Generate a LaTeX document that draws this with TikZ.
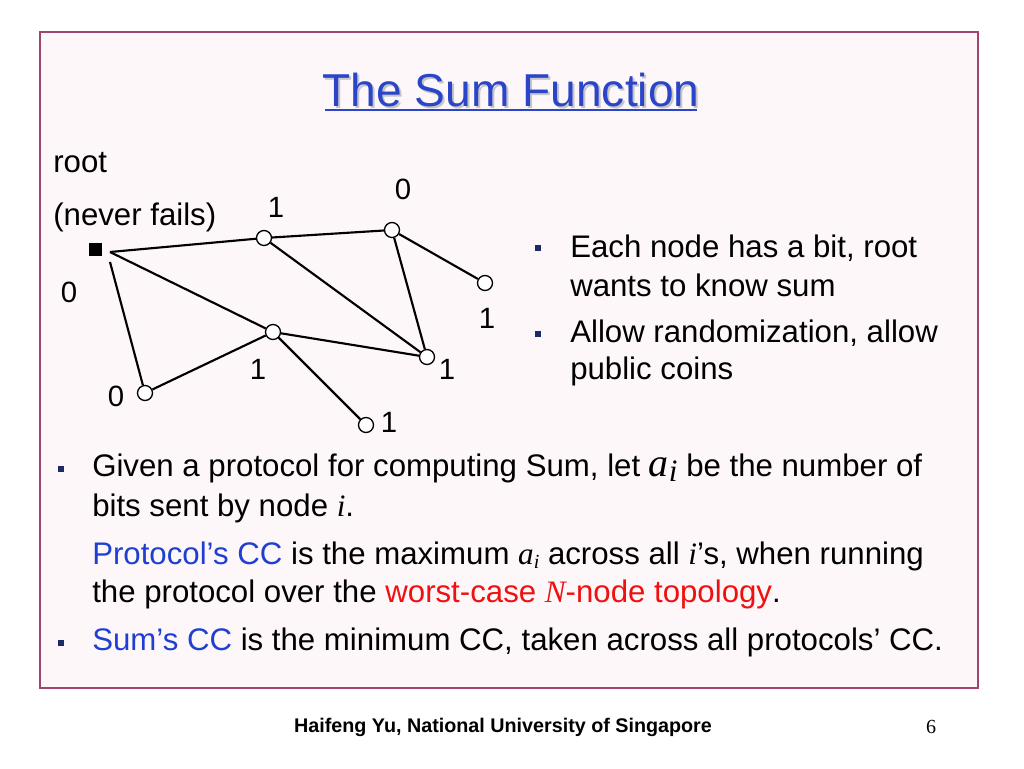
\documentclass[tikz,border=0pt]{standalone}
\usepackage{fontspec}
\setmainfont{Liberation Sans}
\newfontfamily\tms{Liberation Serif}
\definecolor{frame}{HTML}{A0446E}
\definecolor{bg}{HTML}{FDF7FA}
\definecolor{ttl}{HTML}{2A45C8}
\definecolor{blu}{HTML}{1F3FD0}
\definecolor{rd}{HTML}{F01010}
\definecolor{bul}{HTML}{1A2A6A}
\newcommand{\vi}[1]{{\tms\itshape #1}}
\begin{document}
\begin{tikzpicture}[x=0.75pt,y=-0.75pt,
  gn/.style={circle,draw,fill=white,inner sep=0pt,minimum size=11.25pt,line width=1pt},
  ed/.style={line width=1.6pt},
  lab/.style={font=\fontsize{22}{24}\selectfont,inner sep=0pt},
  txt/.style={font=\fontsize{23.4}{28}\selectfont,anchor=west,inner sep=0pt},
  bl/.style={fill=bul,minimum size=4.5pt,inner sep=0pt}]
\useasboundingbox (0,0) rectangle (1024,768);
\fill[white] (0,0) rectangle (1024,768);
\draw[frame,fill=bg,line width=2pt] (40,32) rectangle (978,688);
\node (shadow) [font=\fontsize{34.6}{38}\selectfont,text=gray!45] at (513,92) {The Sum Function};
\node (title) [font=\fontsize{34.6}{38}\selectfont,text=ttl] at (511,90) {The Sum Function};
\draw[ttl,line width=1.2pt] (325,110) -- (697,110);
\node[txt] (root) at (53,163) {root};
\node[txt] (nf) at (53,217) {(never fails)};
\node (r) [fill=black,minimum size=9.75pt,inner sep=0pt] at (95,249) {};
\node (a) [gn] at (264,238) {};
\node (b) [gn] at (392,230) {};
\node (c) [gn] at (485,283) {};
\node (d) [gn] at (273,332) {};
\node (e) [gn] at (427,357) {};
\node (f) [gn] at (145,393) {};
\node (g) [gn] at (366,425) {};
\coordinate (rr) at (110,252);
\coordinate (rf) at (110,262);
\draw[ed] (rr) -- (a); \draw[ed] (a) -- (b);
\draw[ed] (rr) -- (d); \draw[ed] (rf) -- (f);
\draw[ed] (f) -- (d); \draw[ed] (d) -- (e);
\draw[ed] (a) -- (e); \draw[ed] (b) -- (e);
\draw[ed] (b) -- (c); \draw[ed] (d) -- (g);
\node[lab] (la) at (276,207) {1};
\node[lab] (lb) at (403,189) {0};
\node[lab] (lc) at (487,318) {1};
\node[lab] (lr) at (69,292) {0};
\node[lab] (ld) at (258,369) {1};
\node[lab] (le) at (447,369) {1};
\node[lab] (lf) at (116,396) {0};
\node[lab] (lg) at (389,422) {1};
\node[bl] (b1) at (538,248) {};
\node[txt] (t1) at (570,248) {Each node has a bit, root};
\node[txt] (t1b) at (570,285) {wants to know sum};
\node[bl] (b2) at (538,334) {};
\node[txt] (t2) at (570,333) {Allow randomization, allow};
\node[txt] (t2b) at (570,371) {public coins};
\node[bl] (b3) at (61,469) {};
\node[txt] (t3) at (92,468) {Given a protocol for computing Sum, let {\fontsize{30}{30}\selectfont\vi{a}}\raisebox{-4pt}{\vi{i}} be the number of};
\node[txt] (t3b) at (92,508) {bits sent by node \vi{i}.};
\node[txt] (t4) at (92,556) {\textcolor{blu}{Protocol’s CC} is the maximum \vi{a}\raisebox{-3pt}{\fontsize{15}{15}\selectfont\vi{i}} across all \vi{i}’s, when running};
\node[txt] (t4b) at (92,594) {the protocol over the \textcolor{rd}{worst-case \vi{N}-node topology}.};
\node[bl] (b5) at (61,643) {};
\node[txt] (t5) at (92,642) {\textcolor{blu}{Sum’s CC} is the minimum CC, taken across all protocols’ CC.};
\node (foot) [font=\bfseries\fontsize{14.8}{16}\selectfont] at (503,727) {Haifeng Yu, National University of Singapore};
\node (pg) [font=\tms\fontsize{15}{16}\selectfont] at (931,727) {6};
\end{tikzpicture}
\end{document}
